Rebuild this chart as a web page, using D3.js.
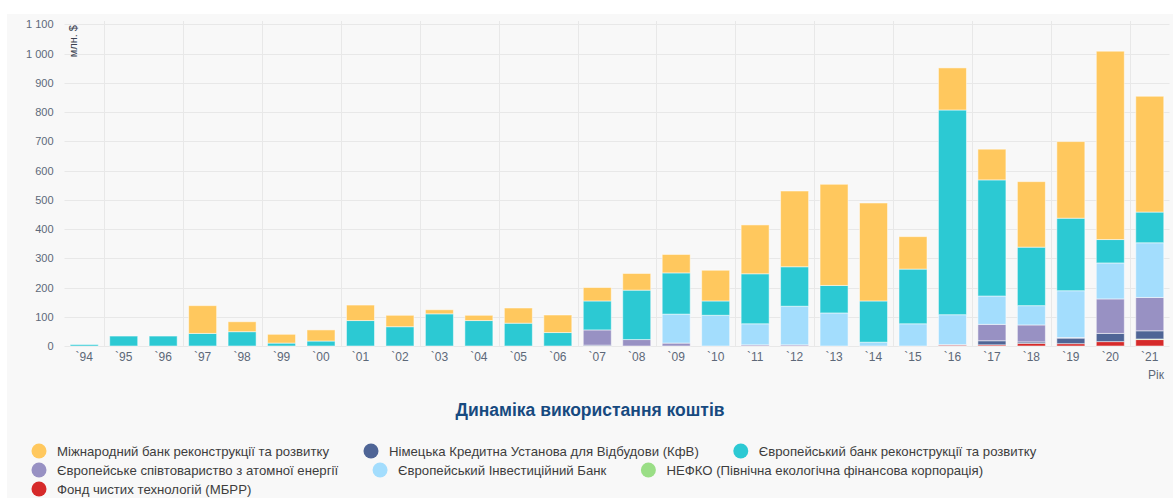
<!DOCTYPE html>
<html lang="uk">
<head>
  <meta charset="UTF-8">
  <title></title>
  <style>
    html, body {
      margin: 0;
      padding: 0;
      overflow: hidden;
      width: 100%;
      height: 100%;
      background: #fff;
    }
    svg {
      position: absolute;
      top: 0;
      left: 0;
    }
    text {
      font-family: Arial, "Liberation Sans", sans-serif;
    }
  </style>
</head>
<body>
  <svg width="1173" height="498"></svg>
<script src="https://d3js.org/d3.v7.min.js"></script>
<script type="text/javascript">
  // years on the x axis
  const years = ['`94', '`95', '`96', '`97', '`98', '`99', '`00', '`01', '`02', '`03', '`04', '`05', '`06', '`07',
                 '`08', '`09', '`10', '`11', '`12', '`13', '`14', '`15', '`16', '`17', '`18', '`19', '`20', '`21']

  // млн. $ per year, one array per lender
  const ibrd    = [0, 0, 0, 95, 34, 30, 38, 53, 39, 14, 18, 52, 60, 46, 57, 63, 105, 167, 259, 346, 335, 111, 144, 105, 224, 262, 644, 396]
  const kfw     = [0, 0, 0, 0, 0, 0, 0, 0, 0, 0, 0, 0, 0, 3, 0, 0, 0, 0, 0, 0, 0, 0, 2, 14, 5, 19, 28, 28]
  const ebrd    = [5, 34, 34, 43, 49, 10, 17, 87, 66, 110, 87, 78, 46, 99, 169, 141, 49, 171, 135, 94, 141, 187, 700, 397, 200, 248, 80, 105]
  const euratom = [0, 0, 0, 0, 0, 0, 0, 0, 0, 0, 0, 0, 0, 52, 22, 10, 0, 4, 4, 0, 0, 0, 0, 56, 58, 2, 118, 114]
  const eib     = [0, 0, 0, 0, 0, 0, 0, 0, 0, 0, 0, 0, 0, 0, 0, 99, 105, 72, 132, 113, 13, 76, 102, 97, 66, 160, 123, 187]
  const nefco   = [0, 0, 0, 0, 0, 0, 0, 0, 0, 0, 0, 0, 0, 0, 0, 0, 0, 0, 0, 0, 0, 0, 0, 0, 0, 0, 0, 2]
  const ctf     = [0, 0, 0, 0, 0, 0, 0, 0, 0, 0, 0, 0, 0, 0, 0, 0, 0, 0, 0, 0, 0, 0, 3, 4, 9, 8, 15, 22]

  const yTicks = [0, 100, 200, 300, 400, 500, 600, 700, 800, 900, 1000, 1100]

  // legend order
  const series = [
    { key: 'ibrd',    name: 'Міжнародний банк реконструкції та розвитку', values: ibrd },
    { key: 'kfw',     name: 'Німецька Кредитна Установа для Відбудови (КфВ)', values: kfw },
    { key: 'ebrd',    name: 'Європейський банк реконструкції та розвитку', values: ebrd },
    { key: 'euratom', name: 'Європейське співтовариство з атомної енергії', values: euratom },
    { key: 'eib',     name: 'Європейський Інвестиційний Банк', values: eib },
    { key: 'nefco',   name: 'НЕФКО (Північна екологічна фінансова корпорація)', values: nefco },
    { key: 'ctf',     name: 'Фонд чистих технологій (МБРР)', values: ctf }
  ]
  // bottom to top
  const stackOrder = ['ctf', 'nefco', 'kfw', 'euratom', 'eib', 'ebrd', 'ibrd']

  const colors = {
    ibrd: '#ffc85e',
    kfw: '#4f6596',
    ebrd: '#2cc9d3',
    euratom: '#9891c3',
    eib: '#a3ddfd',
    nefco: '#9ade86',
    ctf: '#d62a2a'
  }

  const svg = d3.select('svg')
  const W = 1173, H = 498
  const plot = { left: 64.5, right: 1169.5, top: 24.3, bottom: 346 }

  // chart background
  svg.append('rect')
    .attr('x', 7).attr('y', 14)
    .attr('width', W - 7).attr('height', H - 14)
    .attr('fill', '#f8f8f8')

  const table = years.map((y, i) => {
    const row = { year: y }
    series.forEach(s => { row[s.key] = s.values[i] })
    return row
  })

  const x = d3.scaleBand()
    .domain(years)
    .range([plot.left, plot.right])
    .paddingInner(0.29)
    .paddingOuter(0.145)

  const y = d3.scaleLinear()
    .domain([0, 1100])
    .range([plot.bottom, plot.top])

  const fmt = d3.formatLocale({ decimal: ',', thousands: ' ', grouping: [3], currency: ['', ''] }).format(',d')
  const gap = (x.step() - x.bandwidth()) / 2

  // grid
  svg.append('g')
    .selectAll('line')
    .data(yTicks)
    .enter().append('line')
      .attr('x1', plot.left)
      .attr('x2', plot.right)
      .attr('y1', d => Math.round(y(d)) + 0.5)
      .attr('y2', d => Math.round(y(d)) + 0.5)
      .attr('stroke', '#e8e8e8')
      .attr('stroke-width', 1)

  svg.append('g')
    .selectAll('line')
    .data(years.filter((d, i) => i % 2 === 1))
    .enter().append('line')
      .attr('x1', d => Math.round(x(d) - gap) + 0.5)
      .attr('x2', d => Math.round(x(d) - gap) + 0.5)
      .attr('y1', 21)
      .attr('y2', plot.bottom)
      .attr('stroke', '#e8e8e8')
      .attr('stroke-width', 1)

  // stacked bars
  const stacked = d3.stack().keys(stackOrder)(table)

  svg.append('g')
    .selectAll('g')
    .data(stacked)
    .enter().append('g')
      .attr('fill', d => colors[d.key])
    .selectAll('rect')
    .data(d => d.filter(p => p[1] - p[0] > 0))
    .enter().append('rect')
      .attr('x', d => x(d.data.year))
      .attr('width', x.bandwidth())
      .attr('y', d => y(d[1]))
      .attr('height', d => y(d[0]) - y(d[1]))
      .attr('stroke', '#ffffff')
      .attr('stroke-opacity', 0.5)
      .attr('stroke-width', 1)

  // axes
  const yAxis = svg.append('g')
    .attr('transform', `translate(${plot.left},0)`)
    .call(d3.axisLeft(y).tickValues(yTicks).tickFormat(fmt).tickSize(0).tickPadding(11))
  yAxis.select('.domain').remove()
  yAxis.selectAll('text')
    .attr('fill', '#5d6878')
    .style('font-size', '11px')

  const xAxis = svg.append('g')
    .attr('transform', `translate(0,${plot.bottom})`)
    .call(d3.axisBottom(x).tickSize(0).tickPadding(6))
  xAxis.select('.domain').remove()
  xAxis.selectAll('text')
    .attr('fill', '#5d6878')
    .style('font-size', '12px')

  svg.append('text')
    .attr('transform', 'translate(77,25) rotate(-90)')
    .attr('text-anchor', 'end')
    .attr('fill', '#3a4250')
    .style('font-size', '11px')
    .text('млн. $')

  svg.append('text')
    .attr('x', 1164)
    .attr('y', 379)
    .attr('text-anchor', 'end')
    .attr('fill', '#5d6878')
    .style('font-size', '12px')
    .text('Рік')

  // title
  svg.append('text')
    .attr('x', 590)
    .attr('y', 416)
    .attr('text-anchor', 'middle')
    .attr('fill', '#174a80')
    .style('font-size', '17.5px')
    .style('font-weight', 'bold')
    .text('Динаміка використання коштів')

  // legend, flowing rows
  const legend = svg.append('g')
  const rowY = [451, 470, 489]
  let lx = 30, row = 0
  series.forEach(s => {
    const item = legend.append('g')
    item.append('circle')
      .attr('r', 7.5)
      .attr('cx', 9)
      .attr('fill', colors[s.key])
    const t = item.append('text')
      .attr('x', 27)
      .attr('dy', '0.35em')
      .attr('fill', '#3d3d3d')
      .style('font-size', '13.2px')
      .text(s.name)
    const w = 27 + t.node().getComputedTextLength()
    if (lx + w > 1150) { lx = 30; row += 1 }
    item.attr('transform', `translate(${lx},${rowY[row]})`)
    lx += w + 33
  })
</script>
</body>
</html>
